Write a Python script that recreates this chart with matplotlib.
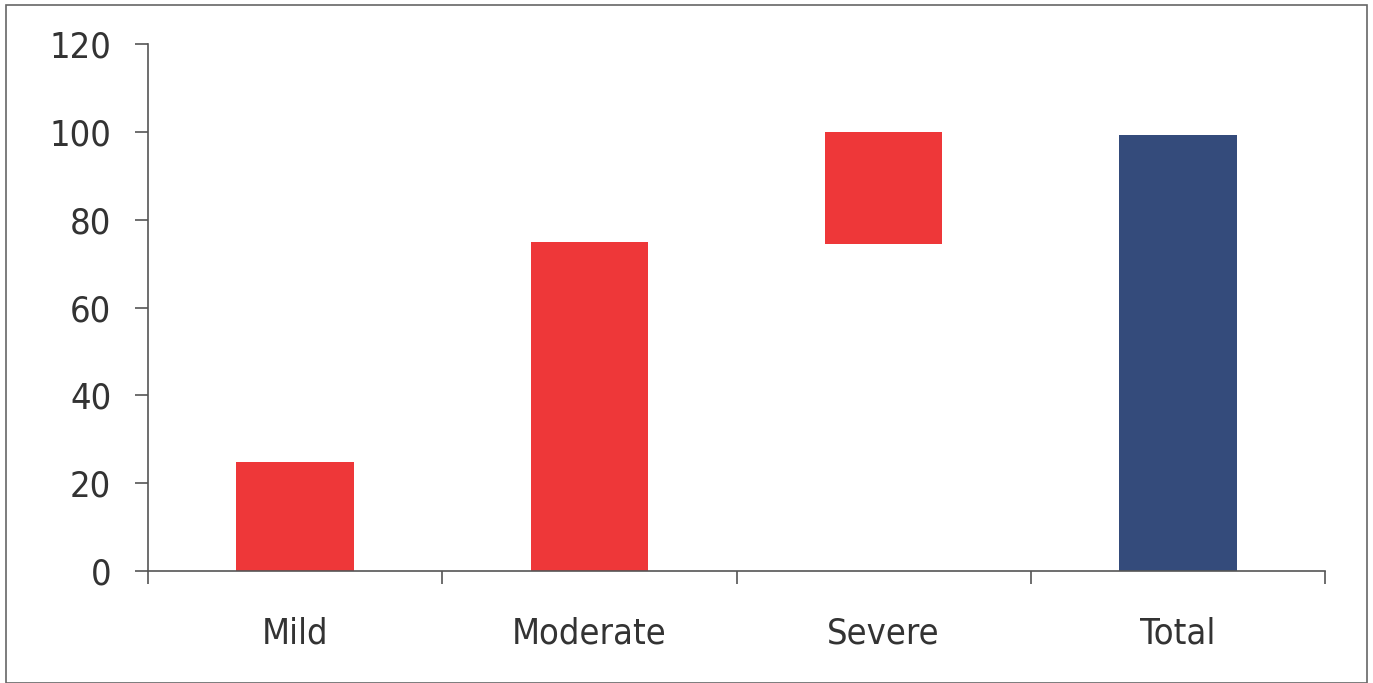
import matplotlib.pyplot as plt
from matplotlib.patches import Rectangle

categories = ['Mild', 'Moderate', 'Severe', 'Total']
bar_start = [0, 0, 74.5, 0]
bar_end = [24.8, 75, 100, 99.3]
bar_colors = ['#EE3739', '#EE3739', '#EE3739', '#344B7B']
y_ticks = [0, 20, 40, 60, 80, 100, 120]

plt.rcParams['font.family'] = ['DejaVu Sans']
plt.rcParams['font.stretch'] = 'condensed'
text_color = '#333333'
axis_color = '#555555'

fig = plt.figure(figsize=(13.73, 6.83), dpi=100)
ax = fig.add_axes([148 / 1373, 112 / 683, 1177 / 1373, 527 / 683])

x = range(len(categories))
heights = [e - s for s, e in zip(bar_start, bar_end)]
ax.bar(x, heights, bottom=bar_start, width=0.4, color=bar_colors)

ax.set_xlim(-0.5, len(categories) - 0.5)
ax.set_ylim(0, 120)
ax.set_yticks(y_ticks)
ax.set_xticks(list(x))
ax.set_xticklabels(categories)
ax.set_xticks([i - 0.5 for i in range(len(categories) + 1)], minor=True)

ax.tick_params(axis='x', which='major', length=0, pad=33, labelsize=26, labelcolor=text_color)
ax.tick_params(axis='x', which='minor', length=9.5, width=1.2, color=axis_color, direction='out')
ax.tick_params(axis='y', length=9.5, width=1.2, color=axis_color, pad=17, labelsize=26, labelcolor=text_color)

for side in ['top', 'right']:
    ax.spines[side].set_visible(False)
for side in ['left', 'bottom']:
    ax.spines[side].set_color(axis_color)
    ax.spines[side].set_linewidth(1.2)

# frame around the whole picture
fig.patches.append(Rectangle((6 / 1373, 0), 1361 / 1373, 678 / 683, transform=fig.transFigure,
                             fill=False, edgecolor='#666666', linewidth=1.2))

fig.savefig('out.png', dpi=100)
